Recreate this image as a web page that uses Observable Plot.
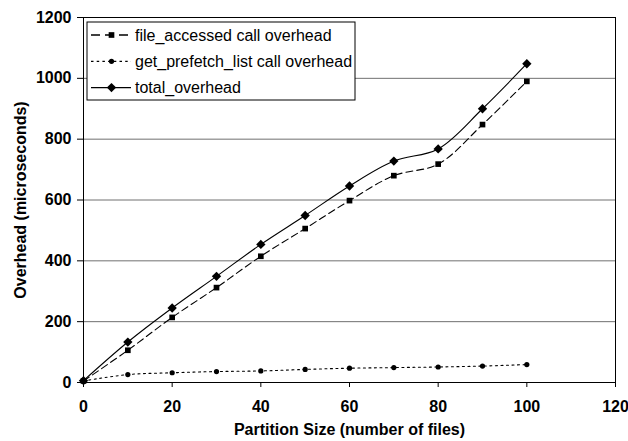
<!DOCTYPE html>
<html>
<head>
<meta charset="utf-8">
<script src="https://cdn.jsdelivr.net/npm/d3@7"></script>
<script src="https://cdn.jsdelivr.net/npm/@observablehq/plot@0.6"></script>
<style>
  html, body { margin: 0; padding: 0; background: white; }
  #chart { position: relative; width: 628px; height: 441px; }
</style>
</head>
<body>
<div id="chart"></div>
<script>
const partitionSizes = [0, 10, 20, 30, 40, 50, 60, 70, 80, 90, 100];
const fileAccessed = [5, 106, 214, 312, 415, 506, 598, 680, 718, 848, 990];
const getPrefetchList = [5, 26, 32, 36, 38, 43, 47, 49, 51, 54, 59];
const totalOverhead = [6, 133, 245, 349, 454, 549, 646, 728, 768, 900, 1048];
const seriesNames = ["file_accessed call overhead", "get_prefetch_list call overhead", "total_overhead"];
const xTicks = [0, 20, 40, 60, 80, 100, 120];
const yTicks = [0, 200, 400, 600, 800, 1000, 1200];
const gridTicks = [200, 400, 600, 800, 1000];
const xTitle = "Partition Size (number of files)";
const yTitle = "Overhead (microseconds)";

const seriesValues = [fileAccessed, getPrefetchList, totalOverhead];
const seriesStyle = [
  {dash: "7,4", symbol: "square", r: 3.2},
  {dash: "2,3.5", symbol: "circle", r: 2.6},
  {dash: null, symbol: "diamond2", r: 4.2}
];
const tables = seriesNames.map((name, i) =>
  partitionSizes.map((x, j) => ({series: name, x, y: seriesValues[i][j]})));

const marks = [
  Plot.gridY(gridTicks, {stroke: "#707070", strokeOpacity: 1, strokeWidth: 1}),
  Plot.frame({stroke: "black", strokeWidth: 1}),
  Plot.axisX(xTicks, {tickSize: 5, tickPadding: 13, label: null, tickFormat: d => String(d)}),
  Plot.axisY(yTicks, {tickSize: 6, tickPadding: 6, label: null, tickFormat: d => String(d)}),
];
tables.forEach((t, i) => {
  const s = seriesStyle[i];
  const lineOpts = {x: "x", y: "y", curve: "catmull-rom", stroke: "black", strokeWidth: 1.1};
  if (s.dash) lineOpts.strokeDasharray = s.dash;
  marks.push(Plot.line(t, lineOpts));
  marks.push(Plot.dot(t, {x: "x", y: "y", symbol: () => s.symbol, r: s.r, fill: "black", stroke: "none"}));
});
marks.push(Plot.text([xTitle], {text: d => d, frameAnchor: "bottom", dy: 47, lineAnchor: "middle", textAnchor: "middle", fontSize: 16, fontWeight: "bold"}));
marks.push(Plot.text([yTitle], {text: d => d, frameAnchor: "left", dx: -63, rotate: -90, lineAnchor: "middle", textAnchor: "middle", fontSize: 16, fontWeight: "bold"}));

const chart = Plot.plot({
  width: 628,
  height: 441,
  marginLeft: 83,
  marginRight: 13,
  marginTop: 17,
  marginBottom: 59,
  style: {fontFamily: "'Liberation Sans', Arial, sans-serif", fontSize: "16px", fontWeight: "bold", color: "black", background: "white"},
  x: {domain: [0, 120], label: null},
  y: {domain: [0, 1200], label: null},
  symbol: {type: "identity"},
  marks
});
document.getElementById("chart").appendChild(chart);

// Legend drawn into the plot's svg
const svg = d3.select(chart);
const lg = svg.append("g").attr("transform", "translate(87,22)");
lg.append("rect").attr("width", 268).attr("height", 78).attr("fill", "white").attr("stroke", "black").attr("stroke-width", 1);
seriesNames.forEach((name, i) => {
  const s = seriesStyle[i];
  const cy = 13 + i * 26.3;
  const row = lg.append("g").attr("transform", `translate(0,${cy})`);
  const ln = row.append("line").attr("x1", 4).attr("x2", 44).attr("y1", 0).attr("y2", 0)
    .attr("stroke", "black").attr("stroke-width", 1.3);
  if (s.dash) ln.attr("stroke-dasharray", i === 0 ? "9,5" : "2.5,3.2");
  const symType = s.symbol === "square" ? d3.symbolSquare : s.symbol === "circle" ? d3.symbolCircle : d3.symbolDiamond2;
  row.append("path").attr("transform", "translate(24.5,0)")
    .attr("d", d3.symbol(symType, s.r * s.r * Math.PI)()).attr("fill", "black");
  row.append("text").attr("x", 48).attr("y", 0).attr("dy", "0.35em")
    .attr("text-anchor", "start")
    .attr("font-size", 16).attr("font-weight", "normal").attr("fill", "black").text(name);
});
</script>
</body>
</html>
